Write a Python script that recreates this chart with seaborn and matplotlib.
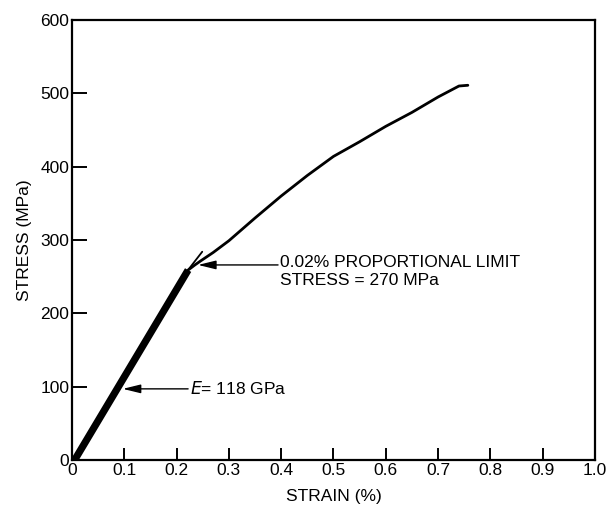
import pandas as pd
import seaborn as sns
import matplotlib.pyplot as plt

# elastic (thick) segment
elastic_strain = [0.005, 0.222]
elastic_stress = [0, 259]

# thin tangent tick at proportional limit
tangent_strain = [0.212, 0.249]
tangent_stress = [250, 284]

# plastic curve
curve_strain = [0.222, 0.235, 0.245, 0.27, 0.30, 0.35, 0.40, 0.45, 0.50,
                0.55, 0.60, 0.65, 0.70, 0.74, 0.757]
curve_stress = [259, 266, 271, 283, 299, 330, 360, 388, 414,
                434, 455, 474, 495, 510, 511]

x_ticks = [0, 0.1, 0.2, 0.3, 0.4, 0.5, 0.6, 0.7, 0.8, 0.9, 1.0]
x_labels = ["0", "0.1", "0.2", "0.3", "0.4", "0.5", "0.6", "0.7", "0.8", "0.9", "1.0"]
y_ticks = [0, 100, 200, 300, 400, 500, 600]

sns.set_theme(style="ticks")
plt.rcParams["font.family"] = ["Liberation Sans", "DejaVu Sans"]
plt.rcParams["text.color"] = "black"
plt.rcParams["axes.labelcolor"] = "black"

fig = plt.figure(figsize=(6.13, 5.2), dpi=100)
ax = fig.add_axes([0.1175, 0.1154, 0.853, 0.8461])

df_el = pd.DataFrame({"strain": elastic_strain, "stress": elastic_stress})
df_tan = pd.DataFrame({"strain": tangent_strain, "stress": tangent_stress})
df_cur = pd.DataFrame({"strain": curve_strain, "stress": curve_stress})

sns.lineplot(data=df_el, x="strain", y="stress", sort=False, color="black",
             linewidth=5.2, solid_capstyle="butt", ax=ax)
sns.lineplot(data=df_tan, x="strain", y="stress", sort=False, color="black",
             linewidth=1.3, ax=ax)
sns.lineplot(data=df_cur, x="strain", y="stress", sort=False, color="black",
             linewidth=2.0, ax=ax)

ax.set_xlim(0, 1.0)
ax.set_ylim(0, 600)
ax.set_xticks(x_ticks)
ax.set_xticklabels(x_labels)
ax.set_yticks(y_ticks)
ax.tick_params(axis="both", direction="in", colors="black", labelsize=12.5,
               width=1.4, pad=2)
ax.tick_params(axis="y", length=11)
ax.tick_params(axis="x", length=9)
for s in ax.spines.values():
    s.set_linewidth(1.6)
    s.set_color("black")

ax.set_xlabel("STRAIN (%)", fontsize=12.5, labelpad=8, color="black")
ax.set_ylabel("STRESS (MPa)", fontsize=12.5, labelpad=6, color="black")

arrow = dict(arrowstyle="-|>,head_length=0.9,head_width=0.22", color="black",
             lw=1.0, shrinkA=0, shrinkB=0)
ax.annotate("", xy=(0.241, 266), xytext=(0.394, 266), arrowprops=arrow)
ax.text(0.397, 257, "0.02% PROPORTIONAL LIMIT\nSTRESS = 270 MPa",
        va="center", ha="left", fontsize=12.5, linespacing=1.3, color="black")
ax.annotate("", xy=(0.097, 97), xytext=(0.222, 97), arrowprops=arrow)
ax.text(0.225, 97, "$\\mathit{E}$= 118 GPa", va="center", ha="left",
        fontsize=12.5, color="black")

fig.savefig("out.png", dpi=100)
